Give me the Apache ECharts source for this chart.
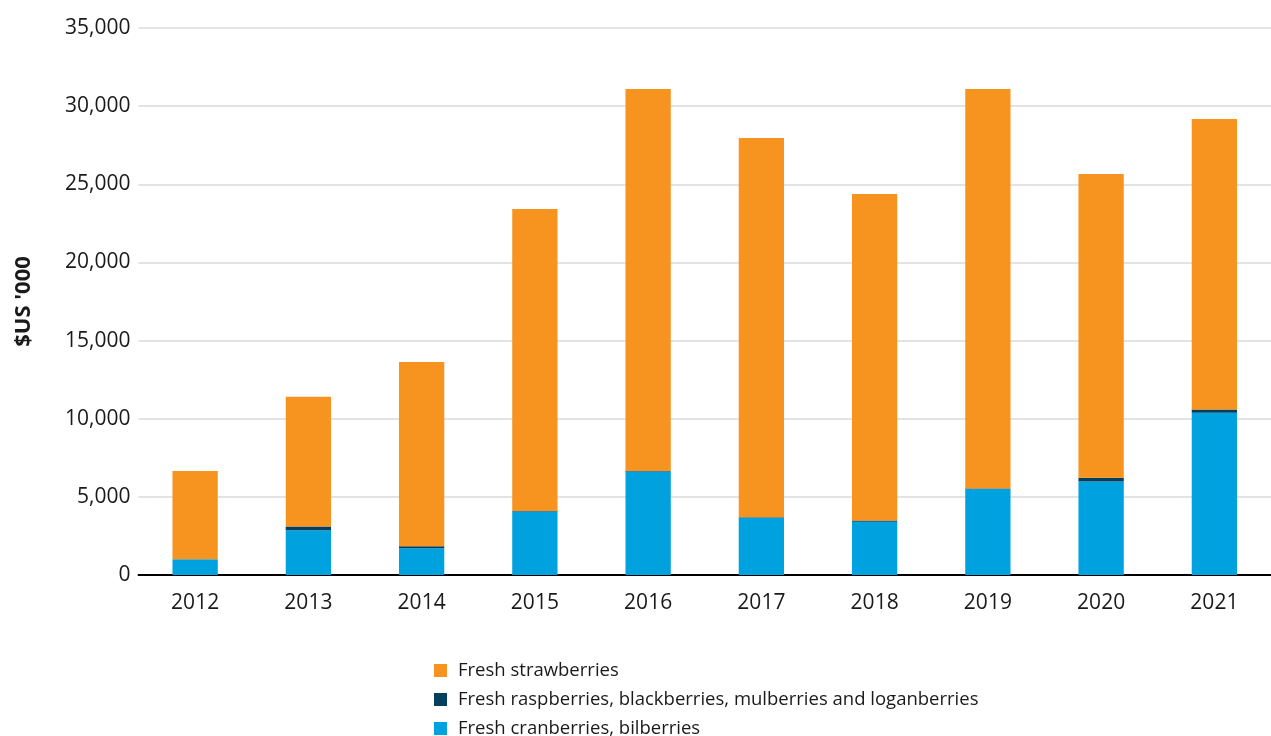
<!DOCTYPE html>
<html>
<head>
<meta charset="utf-8">
<script src="https://cdn.jsdelivr.net/npm/echarts@6/dist/echarts.min.js"></script>
<style>
  html, body { margin: 0; padding: 0; background: #fff; }
  #chart { width: 1271px; height: 736px; }
</style>
</head>
<body>
<div id="chart"></div>
<script>
// chart data
var years = ['2012', '2013', '2014', '2015', '2016', '2017', '2018', '2019', '2020', '2021'];
var cranberries = [1000, 2870, 1715, 4060, 6620, 3670, 3410, 5500, 5990, 10380];
var raspberries = [10, 235, 130, 30, 40, 20, 80, 40, 235, 210];
var strawberries = [5640, 8295, 11785, 19330, 24440, 24270, 20890, 25560, 19435, 18590];
var seriesNames = [
    'Fresh strawberries',
    'Fresh raspberries, blackberries, mulberries and loganberries',
    'Fresh cranberries, bilberries'
];

var fontName = "'Open Sans', 'Noto Sans', sans-serif";
var chart = echarts.init(document.getElementById('chart'));

// one legend per row so the last row can run off the bottom edge like the original
var legendTops = [656, 685, 714];
var legends = seriesNames.map(function (name, i) {
    return {
        orient: 'vertical',
        left: 429,
        top: legendTops[i],
        itemWidth: 13,
        itemHeight: 13,
        icon: 'rect',
        data: [name],
        textStyle: { fontSize: 18.5, color: '#1a1a1a', fontFamily: fontName, padding: [0, 0, 0, 6] }
    };
});

chart.setOption({
    animation: false,
    textStyle: { fontFamily: fontName },
    grid: {
        left: 138.5,
        right: -5.5,
        top: 28,
        bottom: 161,
        containLabel: false
    },
    legend: legends,
    xAxis: {
        type: 'category',
        data: years,
        axisLine: { lineStyle: { color: '#000', width: 2 } },
        axisTick: { show: false },
        axisLabel: { fontSize: 21, color: '#1a1a1a', margin: 18 }
    },
    yAxis: {
        type: 'value',
        min: 0,
        max: 35000,
        interval: 5000,
        name: "$US '000",
        nameLocation: 'middle',
        nameGap: 104,
        nameTextStyle: { fontSize: 22, fontWeight: 'bold', color: '#1a1a1a' },
        axisLine: { show: false },
        axisTick: { show: false },
        splitLine: { lineStyle: { color: '#e3e3e3', width: 2 } },
        axisLabel: {
            fontSize: 21,
            color: '#1a1a1a',
            margin: 8,
            formatter: function (v) { return v.toLocaleString('en-US'); }
        }
    },
    series: [{
        name: seriesNames[2],
        type: 'bar',
        stack: 'total',
        barWidth: '40%',
        itemStyle: { color: '#00a1df' },
        data: cranberries
    }, {
        name: seriesNames[1],
        type: 'bar',
        stack: 'total',
        itemStyle: { color: '#053f5e' },
        data: raspberries
    }, {
        name: seriesNames[0],
        type: 'bar',
        stack: 'total',
        itemStyle: { color: '#f7941f' },
        data: strawberries
    }]
});
</script>
</body>
</html>
